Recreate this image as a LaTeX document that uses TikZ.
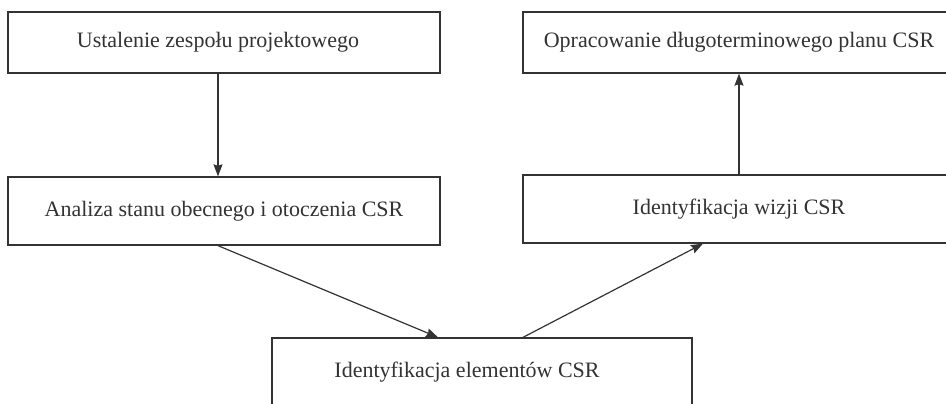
\documentclass[tikz,border=0pt]{standalone}
\usepackage{fontspec}
\setmainfont{Liberation Serif}
\usetikzlibrary{arrows.meta}
\definecolor{ink}{HTML}{333333}
\tikzset{
  stepbox/.style={draw=ink, line width=1.3pt, rectangle, inner sep=0pt,
    minimum height=#1, font=\fontsize{22}{26}\selectfont, text=ink},
  wide/.style={minimum width=432pt},
  flow/.style={draw=ink, line width=1.2pt, -{Stealth[length=12pt,width=9pt,inset=1.5pt]}}
}
\begin{document}
\begin{tikzpicture}[x=1pt,y=-1pt]
  \useasboundingbox (0,0) rectangle (946,404);
  \clip (0,0) rectangle (946,404);
  \fill[white] (0,0) rectangle (946,404);

  % process steps
  \node[stepbox=61pt, wide] (team)     at (224,42.5) {\hspace*{-12pt}\raisebox{-2pt}{Ustalenie zespołu projektowego}};
  \node[stepbox=61pt, wide] (plan)     at (739,42.5) {\raisebox{-2pt}{Opracowanie długoterminowego planu CSR}};
  \node[stepbox=68pt, wide] (analysis) at (224,211)  {Analiza stanu obecnego i otoczenia CSR};
  \node[stepbox=68pt, wide] (vision)   at (739,209)  {Identyfikacja wizji CSR};
  \node[stepbox=68pt, minimum width=420pt] (elements) at (482,372) {\hspace*{-30pt}Identyfikacja elementów CSR};

  % connectors
  \draw[flow] ([xshift=-6pt]team.south) -- ([xshift=-6pt]analysis.north);
  \draw[flow] ([xshift=-6pt]analysis.south) -- ([xshift=-44pt]elements.north);
  \draw[flow] ([xshift=41pt]elements.north) -- ([xshift=-36pt]vision.south);
  \draw[flow] (vision.north) -- (plan.south);
\end{tikzpicture}
\end{document}
